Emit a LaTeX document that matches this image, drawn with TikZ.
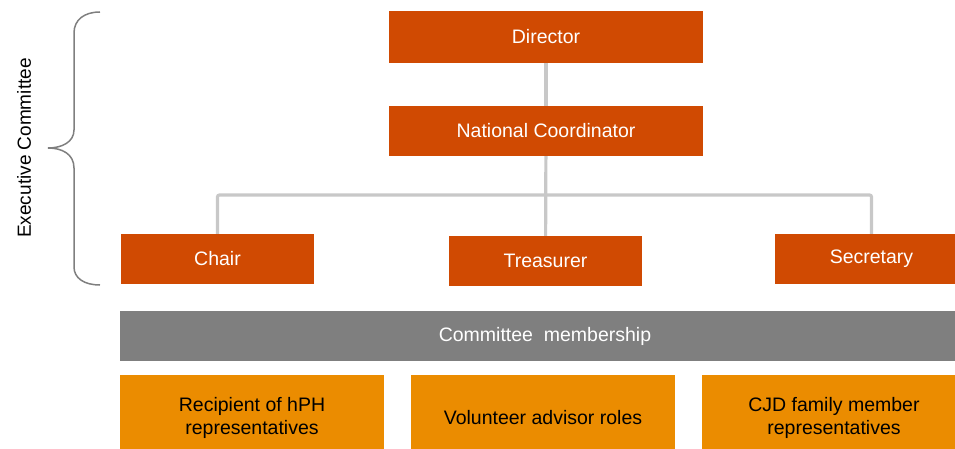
\documentclass[tikz,border=0pt]{standalone}
\usepackage{fontspec}
\setmainfont{Liberation Sans}
\usepackage{tikz}
\usetikzlibrary{positioning}
\usepackage{xcolor}
\definecolor{roleorange}{HTML}{D04A02}
\definecolor{memberorange}{HTML}{EB8C00}
\definecolor{bargray}{HTML}{7F7F7F}
\definecolor{linkgray}{HTML}{C8C8C8}

\begin{document}
\begin{tikzpicture}[x=1pt, y=-1pt,
    role/.style={rectangle, fill=roleorange, text=white, inner sep=0pt, minimum height=50pt, font=\fontsize{19.5}{23}\selectfont},
    member/.style={rectangle, fill=memberorange, text=black, inner sep=0pt, minimum width=264pt, minimum height=86pt, align=center, font=\fontsize{19.5}{23}\selectfont},
    link/.style={draw=linkgray, line width=3.2pt, rounded corners=2pt}]
  \useasboundingbox (0,0) rectangle (955,449);
  \clip (0,0) rectangle (955,449);

  \node[role, minimum width=314pt, minimum height=52pt] (director) at (546, 37) {Director};
  \node[role, minimum width=314pt] (natcoord) at (546, 131) {National Coordinator};
  \node[role, minimum width=193pt] (chair) at (217.5, 259) {Chair};
  \node[role, minimum width=193pt] (treasurer) at (545.5, 261) {Treasurer};
  \node[role, minimum width=193pt] (secretary) at (871.5, 259) {Secretary};
  \coordinate (split) at (545.5, 195);

  \draw[link] (director) -- (natcoord);
  \draw[link] (natcoord) -- (treasurer);
  \draw[link] (chair) |- (split) -| (secretary);

  \node[rectangle, fill=bargray, text=white, minimum width=850pt, minimum height=50pt, inner sep=0pt, font=\fontsize{19.5}{23}\selectfont] (members) at (545, 336) {Committee~ membership};
  \node[member] (recipients) at (252, 418) {Recipient of hPH\\representatives};
  \node[member] (advisors) at (543, 418) {Volunteer advisor roles};
  \node[member] (family) at (834, 418) {CJD family member\\representatives};

  % brace round the executive committee
  \draw[bargray, line width=1.5pt] (100,12) .. controls (84,12) and (74,20) .. (74,33) -- (74,130)
    .. controls (74,142) and (62,148) .. (48,148) .. controls (62,148) and (74,154) .. (74,168)
    -- (74,267) .. controls (74,278) and (84,285) .. (100,285);
  \node[rotate=90, font=\fontsize{19}{23}\selectfont] (execlabel) at (24, 148) {Executive Committee};
\end{tikzpicture}
\end{document}
